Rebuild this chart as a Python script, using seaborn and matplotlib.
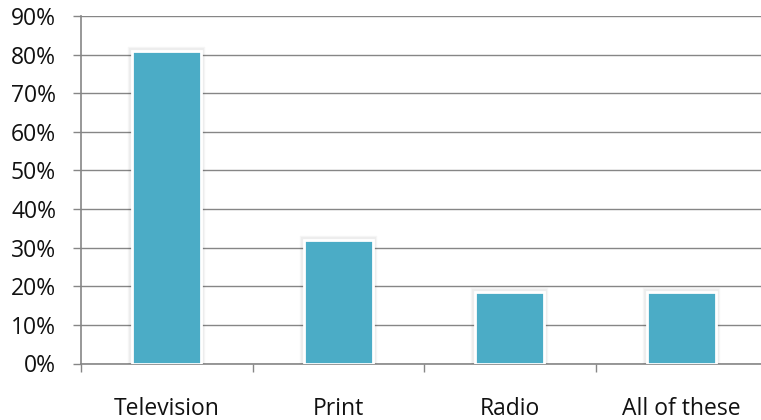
import matplotlib
matplotlib.use("Agg")
import matplotlib.pyplot as plt
import matplotlib.patheffects as pe
from matplotlib.ticker import FixedLocator, PercentFormatter
import seaborn as sns
import pandas as pd

categories = ["Television", "Print", "Radio", "All of these"]
shares = [0.81, 0.32, 0.185, 0.185]
y_ticks = [0.0, 0.1, 0.2, 0.3, 0.4, 0.5, 0.6, 0.7, 0.8, 0.9]

df = pd.DataFrame({"medium": categories, "share": shares})

sns.set_style("white")
plt.rcParams["font.family"] = ["Open Sans", "DejaVu Sans"]

AXIS_GREY = "#868686"
BAR_BLUE = "#4BACC6"

fig = plt.figure(figsize=(7.61, 4.20), dpi=100)
ax = fig.add_axes([81 / 761, 1 - 363.5 / 420, 686 / 761, (363.5 - 16) / 420])

sns.barplot(data=df, x="medium", y="share", color=BAR_BLUE, saturation=1,
            width=0.4, edgecolor="white", linewidth=2.0, ax=ax, zorder=3)

# faint soft shadow around each bar
for bar in ax.patches:
    bar.set_path_effects([
        pe.Stroke(linewidth=6, foreground="black", alpha=0.035),
        pe.Stroke(linewidth=4.5, foreground="black", alpha=0.035),
        pe.Normal(),
    ])

ax.set_xlim(-0.5, len(categories) - 0.5)
ax.set_ylim(0, 0.9)
ax.set_yticks(y_ticks)
ax.yaxis.set_major_formatter(PercentFormatter(1.0, decimals=0))
ax.grid(axis="y", color=AXIS_GREY, linewidth=1.0, zorder=0)
ax.set_axisbelow(True)

# category labels sit between the boundary tick marks
ax.set_xticks(range(len(categories)))
ax.set_xticklabels(categories)
ax.xaxis.set_minor_locator(FixedLocator([i - 0.5 for i in range(len(categories) + 1)]))
ax.tick_params(axis="x", which="major", length=0, pad=24, labelsize=16.5, labelcolor="#111111")
ax.tick_params(axis="x", which="minor", length=6, width=1.0, color=AXIS_GREY, bottom=True)
ax.tick_params(axis="y", which="major", length=6, width=1.0, color=AXIS_GREY,
               left=True, pad=12, labelsize=16.5, labelcolor="#111111")

for side in ("top", "right"):
    ax.spines[side].set_visible(False)
for side in ("left", "bottom"):
    ax.spines[side].set_color(AXIS_GREY)
    ax.spines[side].set_linewidth(1.2)

ax.set_xlabel("")
ax.set_ylabel("")

fig.savefig("out.png", dpi=100)
